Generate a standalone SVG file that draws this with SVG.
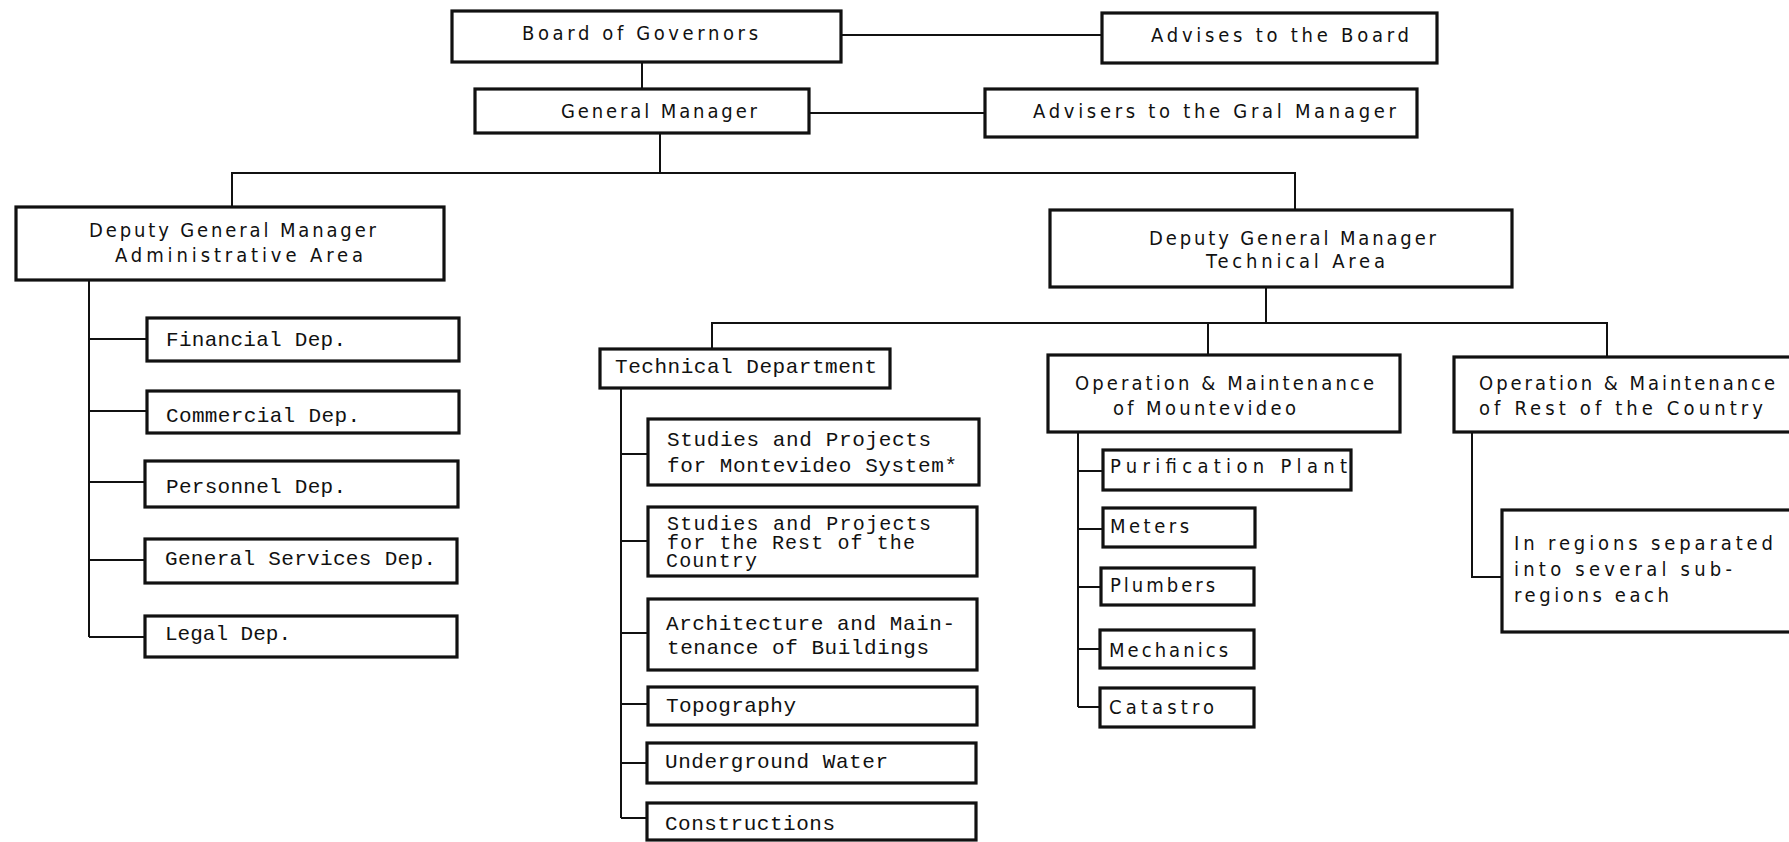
<svg xmlns="http://www.w3.org/2000/svg" width="1789" height="842" viewBox="0 0 1789 842">
<style>
.box{fill:#fff;stroke:#111;stroke-width:3.2}
.cn{fill:none;stroke:#111;stroke-width:2}
.n{font-family:"Liberation Sans Narrow","DejaVu Sans Condensed","Liberation Sans",sans-serif;font-size:20px;fill:#111}
.m{font-family:"Liberation Mono","Courier New",monospace;font-size:21px;fill:#111}
.t{font-size:20px}
</style>
<rect width="1789" height="842" fill="#fff"/>
<g id="connectors">
<path class="cn" d="M841 35H1102"/>
<path class="cn" d="M642 62V89"/>
<path class="cn" d="M809 113H985"/>
<path class="cn" d="M660 133V173M232 207V173H1295V210"/>
<path class="cn" d="M89 281V637M89 339H147M89 411H147M89 482H145M89 560H145M89 637H145"/>
<path class="cn" d="M1266 287V323M712 349V323H1607V357M1208 323V355"/>
<path class="cn" d="M621 388V818M621 454H648M621 541H648M621 633H648M621 704H648M621 763H647M621 818H647"/>
<path class="cn" d="M1078 432V707M1078 471H1103M1078 529H1103M1078 587H1101M1078 649H1100M1078 707H1100"/>
<path class="cn" d="M1472 432V577H1502"/>
</g>
<g id="board"><rect class="box" x="452" y="11" width="389" height="51"/><text class="n" x="522" y="40" textLength="236">Board of Governors</text></g>
<g id="advises-board"><rect class="box" x="1102" y="13" width="335" height="50"/><text class="n" x="1151" y="42" textLength="258">Advises to the Board</text></g>
<g id="general-manager"><rect class="box" x="475" y="89" width="334" height="44"/><text class="n" x="561" y="118" textLength="196">General Manager</text></g>
<g id="advisers-gm"><rect class="box" x="985" y="89" width="432" height="48"/><text class="n" x="1033" y="118" textLength="363">Advisers to the Gral Manager</text></g>
<g id="deputy-admin"><rect class="box" x="16" y="207" width="428" height="73"/><text class="n" x="89" y="237" textLength="287">Deputy General Manager</text><text class="n" x="115" y="262" textLength="248">Administrative Area</text></g>
<g id="deputy-tech"><rect class="box" x="1050" y="210" width="462" height="77"/><text class="n" x="1149" y="245" textLength="287">Deputy General Manager</text><text class="n" x="1206" y="268" textLength="179">Technical Area</text></g>
<g id="financial"><rect class="box" x="147" y="318" width="312" height="43"/><text class="m" x="166" y="346" textLength="180">Financial Dep.</text></g>
<g id="commercial"><rect class="box" x="147" y="391" width="312" height="42"/><text class="m" x="166" y="422" textLength="194">Commercial Dep.</text></g>
<g id="personnel"><rect class="box" x="145" y="461" width="313" height="46"/><text class="m" x="166" y="493" textLength="180">Personnel Dep.</text></g>
<g id="general-services"><rect class="box" x="145" y="539" width="312" height="44"/><text class="m" x="165" y="565" textLength="271">General Services Dep.</text></g>
<g id="legal"><rect class="box" x="145" y="616" width="312" height="41"/><text class="m" x="165" y="640" textLength="126">Legal Dep.</text></g>
<g id="technical-dept"><rect class="box" x="600" y="349" width="290" height="39"/><text class="m" x="615" y="373" textLength="262">Technical Department</text></g>
<g id="studies-montevideo"><rect class="box" x="648" y="419" width="331" height="66"/><text class="m" x="667" y="446" textLength="264">Studies and Projects</text><text class="m" x="667" y="472" textLength="290">for Montevideo System*</text></g>
<g id="studies-rest"><rect class="box" x="648" y="507" width="329" height="69"/><text class="m t" x="667" y="530" textLength="264">Studies and Projects</text><text class="m t" x="667" y="549" textLength="248">for the Rest of the</text><text class="m t" x="666" y="567" textLength="91">Country</text></g>
<g id="architecture"><rect class="box" x="648" y="599" width="329" height="71"/><text class="m" x="666" y="630" textLength="289">Architecture and Main-</text><text class="m" x="667" y="654" textLength="262">tenance of Buildings</text></g>
<g id="topography"><rect class="box" x="648" y="687" width="329" height="38"/><text class="m" x="666" y="712" textLength="130">Topography</text></g>
<g id="underground-water"><rect class="box" x="647" y="743" width="329" height="40"/><text class="m" x="665" y="768" textLength="223">Underground Water</text></g>
<g id="constructions"><rect class="box" x="647" y="803" width="329" height="37"/><text class="m" x="665" y="830" textLength="170">Constructions</text></g>
<g id="om-montevideo"><rect class="box" x="1048" y="355" width="352" height="77"/><text class="n" x="1075" y="390" textLength="299">Operation &amp; Maintenance</text><text class="n" x="1113" y="415" textLength="183">of Mountevideo</text></g>
<g id="om-rest"><rect class="box" x="1454" y="357" width="360" height="75"/><text class="n" x="1479" y="390" textLength="296">Operation &amp; Maintenance</text><text class="n" x="1479" y="415" textLength="284">of Rest of the Country</text></g>
<g id="purification"><rect class="box" x="1103" y="450" width="248" height="40"/><text class="n" x="1110" y="473" textLength="237">Purification Plant</text></g>
<g id="meters"><rect class="box" x="1103" y="508" width="152" height="39"/><text class="n" x="1110" y="533" textLength="79">Meters</text></g>
<g id="plumbers"><rect class="box" x="1101" y="568" width="153" height="37"/><text class="n" x="1110" y="592" textLength="105">Plumbers</text></g>
<g id="mechanics"><rect class="box" x="1100" y="630" width="154" height="38"/><text class="n" x="1109" y="657" textLength="119">Mechanics</text></g>
<g id="catastro"><rect class="box" x="1100" y="688" width="154" height="39"/><text class="n" x="1109" y="714" textLength="105">Catastro</text></g>
<g id="regions"><rect class="box" x="1502" y="510" width="310" height="122"/><text class="n" x="1514" y="550" textLength="259">In regions separated</text><text class="n" x="1514" y="576" textLength="218">into several sub-</text><text class="n" x="1514" y="602" textLength="155">regions each</text></g>
</svg>
